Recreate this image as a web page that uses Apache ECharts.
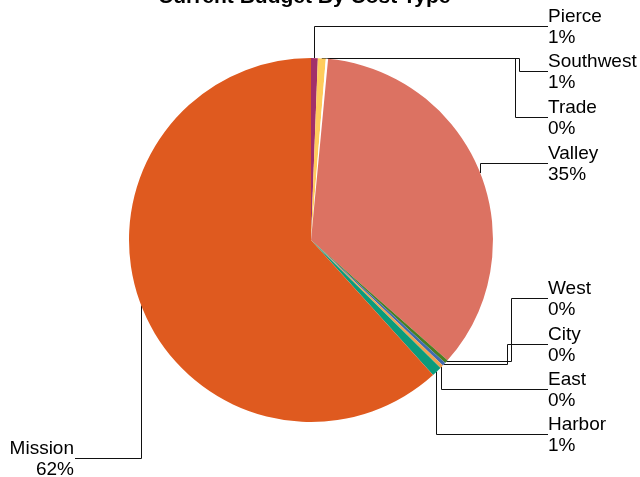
<!DOCTYPE html>
<html>
<head>
<meta charset="utf-8">
<script src="https://cdn.jsdelivr.net/npm/echarts@6/dist/echarts.min.js"></script>
<style>html,body{margin:0;padding:0;background:#fff}#c{width:640px;height:477px}</style>
</head>
<body>
<div id="c"></div>
<script>
// Data
var categories = ['Pierce', 'Southwest', 'Trade', 'Valley', 'West', 'City', 'East', 'Harbor', 'Mission'];
var budgetShare = [0.6, 0.7, 0.2, 35.0, 0.3, 0.3, 0.3, 0.9, 61.7];
var sliceColors = ['#A2306A', '#FFCC5C', '#FFFFFF', '#DC7262', '#4A7F22', '#3F6BAF', '#F0A050', '#0C9B7B', '#DF5A1F'];

// Label layout slots (positions only)
var rightX = 548, leftX = 74;
var slots = [
  {y: 26, elbow: 314},
  {y: 71, elbow: 519},
  {y: 117, elbow: 515},
  {y: 163, elbow: null},
  {y: 298, elbow: 511},
  {y: 344, elbow: 507},
  {y: 389, elbow: null},
  {y: 434, elbow: null},
  {y: 458, elbow: null, left: true}
];

function px(v) { return Math.round(v - 0.5) + 0.5; }

var chart = echarts.init(document.getElementById('c'), null, {renderer: 'canvas'});
var data = categories.map(function (n, i) {
  return {name: n, value: budgetShare[i], itemStyle: {color: sliceColors[i]}};
});
chart.setOption({
  animation: false,
  title: {
    text: 'Current Budget By Cost Type',
    left: 153,
    top: -18,
    textStyle: {fontFamily: 'Liberation Sans, Arial, sans-serif', fontSize: 21, fontWeight: 'bold', color: '#000'}
  },
  series: [{
    type: 'pie',
    center: [311, 240],
    radius: 182,
    startAngle: 90,
    clockwise: true,
    avoidLabelOverlap: false,
    minShowLabelAngle: 0,
    data: data,
    itemStyle: {borderWidth: 0},
    label: {
      show: true,
      formatter: function (p) { return p.name + '\n' + Math.round(p.percent) + '%'; },
      fontFamily: 'Liberation Sans, Arial, sans-serif',
      fontSize: 19,
      lineHeight: 21,
      color: '#000'
    },
    labelLine: {show: true, length: 10, length2: 10, smooth: false, lineStyle: {color: '#111', width: 1}},
    emphasis: {disabled: true},
    labelLayout: function (params) {
      var s = slots[params.dataIndex];
      var pts = params.labelLinePoints;
      var a = pts ? pts[0] : [0, 0];
      var ax = px(a[0]), ay = a[1], ly = px(s.y);
      if (s.left) {
        return {
          x: leftX, y: s.y + 1, align: 'right', verticalAlign: 'middle', hideOverlap: false,
          labelLinePoints: [[ax, ay], [ax, ly], [leftX + 1, ly]]
        };
      }
      var line;
      if (s.elbow != null && s.elbow > a[0] + 3) {
        var ahy = px(ay);
        line = [[a[0], ay], [a[0], ahy], [px(s.elbow), ahy], [px(s.elbow), ly], [rightX, ly]];
      } else {
        line = [[ax, ay], [ax, ly], [rightX, ly]];
      }
      return {x: rightX, y: s.y + 1, align: 'left', verticalAlign: 'middle', hideOverlap: false, labelLinePoints: line};
    }
  }]
});
</script>
</body>
</html>
